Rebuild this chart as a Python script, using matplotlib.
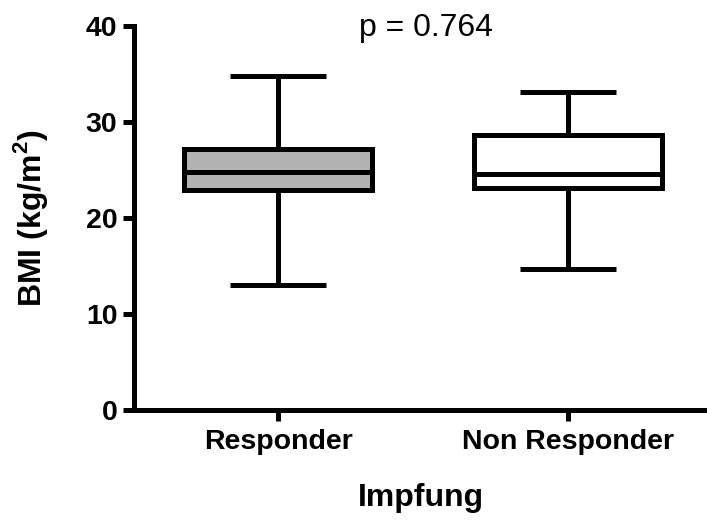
import matplotlib
matplotlib.use("Agg")

import matplotlib.pyplot as plt

# box statistics (BMI, kg/m^2)
groups = ["Responder", "Non Responder"]
whisker_low = [13.0, 14.7]
q1 = [22.9, 23.1]
median = [24.8, 24.6]
q3 = [27.2, 28.6]
whisker_high = [34.8, 33.1]
box_colors = ["#b3b3b3", "white"]

y_ticks = [0, 10, 20, 30, 40]
p_text = "p = 0.764"

plt.rcParams['font.family'] = ['Liberation Sans', 'DejaVu Sans']

lw = 3.6
fig = plt.figure(figsize=(7.07, 5.2), dpi=100)
ax = fig.add_axes([134 / 707, 110 / 520, 573 / 707, 384 / 520])

stats = []
for i, name in enumerate(groups):
    stats.append({
        "label": name,
        "whislo": whisker_low[i],
        "q1": q1[i],
        "med": median[i],
        "q3": q3[i],
        "whishi": whisker_high[i],
    })

line = dict(color="black", linewidth=lw)
parts = ax.bxp(stats, positions=[1, 2], widths=0.65, capwidths=0.33,
               showfliers=False, patch_artist=True,
               boxprops=dict(edgecolor="black", linewidth=lw),
               medianprops=line, whiskerprops=line, capprops=line)
for patch, c in zip(parts["boxes"], box_colors):
    patch.set_facecolor(c)
for art in parts["medians"] + parts["whiskers"] + parts["caps"]:
    art.set_solid_capstyle("butt")

ax.set_xlim(0.503, 2.479)
ax.set_ylim(0, 40)
ax.set_yticks(y_ticks)
ax.set_xticks([1, 2])
ax.set_xticklabels(groups)

for side in ["top", "right"]:
    ax.spines[side].set_visible(False)
for side in ["left", "bottom"]:
    ax.spines[side].set_linewidth(lw)
    ax.spines[side].set_capstyle("projecting")

ax.tick_params(axis="both", width=lw, length=8, labelsize=20.5)
ax.tick_params(axis="y", pad=4)
ax.tick_params(axis="x", pad=6)
for lab in ax.get_xticklabels() + ax.get_yticklabels():
    lab.set_fontweight("bold")

ax.set_ylabel("BMI (kg/m$^\\mathregular{2}$)", fontsize=23, fontweight="bold")
ax.set_xlabel("Impfung", fontsize=23, fontweight="bold")
ax.yaxis.set_label_coords(-0.147, 0.5)
ax.xaxis.set_label_coords(0.5, -0.19)

ax.text(1.51, 39.8, p_text, fontsize=23, ha="center", va="center", clip_on=False)

fig.savefig("out.png", dpi=100)
